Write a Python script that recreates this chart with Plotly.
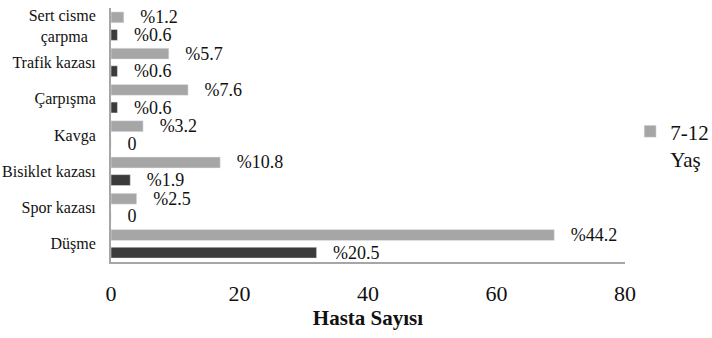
import plotly.graph_objects as go

# Injury causes (bottom to top on the chart)
categories = ["Düşme", "Spor kazası", "Bisiklet kazası", "Kavga",
              "Çarpışma", "Trafik kazası", "Sert cisme<br>çarpma\u00a0\u00a0"]

# Patient counts per age group
older_counts = [69, 4, 17, 5, 12, 9, 2]     # 7-12 Yaş
younger_counts = [32, 0, 3, 0, 1, 1, 1]     # 0-6 Yaş

# Percentage labels shown next to the bars
older_labels = ["%44.2", "%2.5", "%10.8", "%3.2", "%7.6", "%5.7", "%1.2"]
younger_labels = ["%20.5", "0", "%1.9", "0", "%0.6", "%0.6", "%0.6"]

FONT = "Liberation Serif"
PAD = "\u00a0\u00a0\u00a0"

fig = go.Figure()
fig.add_trace(go.Bar(
    y=categories, x=younger_counts, orientation="h", name="0-6 Yaş",
    marker=dict(color="#3b3b3b"), showlegend=False,
    text=[PAD + t for t in younger_labels], textposition="outside",
    constraintext="none", cliponaxis=False,
    textfont=dict(family=FONT, size=18, color="#111"),
))
fig.add_trace(go.Bar(
    y=categories, x=older_counts, orientation="h", name="7-12<br>Yaş",
    marker=dict(color="#a6a6a6"),
    text=[PAD + t for t in older_labels], textposition="outside",
    constraintext="none", cliponaxis=False,
    textfont=dict(family=FONT, size=18, color="#111"),
))

fig.update_layout(
    width=712, height=338,
    margin=dict(l=111, r=87, t=8, b=76, autoexpand=False),
    paper_bgcolor="white", plot_bgcolor="white",
    barmode="group", bargap=0.03, bargroupgap=0.38,
    font=dict(family=FONT, color="#111"),
    legend=dict(x=1.01, xanchor="left", y=0.46, yanchor="middle",
                font=dict(family=FONT, size=21, color="#111"),
                valign="top", bgcolor="rgba(0,0,0,0)", itemwidth=30),
    xaxis=dict(range=[0, 80], tickvals=[0, 20, 40, 60, 80],
               showgrid=False, zeroline=False,
               showline=True, linecolor="#a6a6a6", linewidth=2,
               ticks="", ticklabelstandoff=11,
               tickfont=dict(family=FONT, size=22, color="#111"),
               title=dict(text="<b>Hasta Sayısı</b>", standoff=0,
                          font=dict(family=FONT, size=21, color="#111"))),
    yaxis=dict(showgrid=False, zeroline=False,
               showline=True, linecolor="#a6a6a6", linewidth=2,
               ticks="", ticklabelstandoff=10,
               tickfont=dict(family=FONT, size=16, color="#111")),
)

fig.write_html("out.html")
